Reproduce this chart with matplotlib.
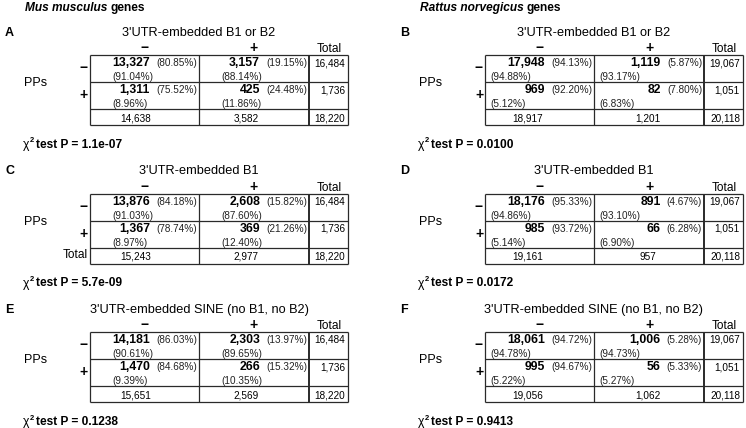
import matplotlib.pyplot as plt

plt.rcParams['font.family'] = ['Liberation Sans', 'DejaVu Sans']

# Contingency tables: [PPs-/SINE-, PPs-/SINE+, PPs+/SINE-, PPs+/SINE+]
species = ['Mus musculus', 'Rattus norvegicus']
panel_letters = [['A', 'C', 'E'], ['B', 'D', 'F']]
panel_titles = ["3'UTR-embedded B1 or B2", "3'UTR-embedded B1",
                "3'UTR-embedded SINE (no B1, no B2)"]
mouse_counts = [[13327, 3157, 1311, 425],
                [13876, 2608, 1367, 369],
                [14181, 2303, 1470, 266]]
rat_counts = [[17948, 1119, 969, 82],
              [18176, 891, 985, 66],
              [18061, 1006, 995, 56]]
mouse_pvalues = ['1.1e-07', '5.7e-09', '0.1238']
rat_pvalues = ['0.0100', '0.0172', '0.9413']

fig = plt.figure(figsize=(7.46, 4.28), dpi=100)
ax = fig.add_axes([0, 0, 1, 1])
ax.set_xlim(0, 746)
ax.set_ylim(428, 0)
ax.axis('off')
renderer = fig.canvas.get_renderer()

line_kw = dict(color='#2a2a2a', lw=0.9, solid_capstyle='butt')
fmt = lambda v: f'{v:,}'

all_counts = [mouse_counts, rat_counts]
all_pvalues = [mouse_pvalues, rat_pvalues]
colpct_off = [22, 5]           # left inset of the column-percentage line
total_row_off = [[46, 47], [43, 54]]

for s in range(2):
    dx = 395 * s
    name = ax.text(25 + dx, 8, species[s], fontsize=8.6, fontweight='bold',
                   style='italic', va='center', ha='left')
    bb = name.get_window_extent(renderer)
    ax.text(bb.x1 + 3, 8, 'genes', fontsize=8.6, fontweight='bold',
            va='center', ha='left')

    for p in range(3):
        c = all_counts[s][p]
        x0 = 90 + dx
        y0 = 55 + 138.5 * p
        cols = [x0, x0 + 109, x0 + 219, x0 + 258]
        rows = [y0, y0 + 27, y0 + 54, y0 + 70]

        # grid
        for yy in rows:
            ax.plot([cols[0], cols[3]], [yy, yy], **line_kw)
        for i, xx in enumerate(cols):
            ax.plot([xx, xx], [rows[0], rows[3]],
                    **dict(line_kw, lw=1.4 if i == 2 else 0.9))

        ax.text(5 + dx, y0 - 22, panel_letters[s][p], fontsize=9,
                fontweight='bold', va='center')
        ax.text(cols[1], y0 - 22, panel_titles[p], fontsize=9.2,
                ha='center', va='center')
        ax.text((cols[0] + cols[1]) / 2, y0 - 7, '\u2212', fontsize=10,
                fontweight='bold', ha='center', va='center')
        ax.text((cols[1] + cols[2]) / 2, y0 - 7, '+', fontsize=10,
                fontweight='bold', ha='center', va='center')
        ax.text((cols[2] + cols[3]) / 2 + 1, y0 - 6, 'Total', fontsize=8.6,
                ha='center', va='center')
        ax.text(cols[0] - 6, y0 + 13, '\u2212', fontsize=10,
                fontweight='bold', ha='center', va='center')
        ax.text(cols[0] - 6, y0 + 40, '+', fontsize=10,
                fontweight='bold', ha='center', va='center')
        ax.text(24 + dx, y0 + 28, 'PPs', fontsize=9, va='center')
        if s == 0 and p == 1:
            ax.text(cols[0] - 2, y0 + 62, 'Total', fontsize=8.6,
                    ha='right', va='center')

        row_tot = [c[0] + c[1], c[2] + c[3]]
        col_tot = [c[0] + c[2], c[1] + c[3]]
        for r in range(2):
            for k in range(2):
                v = c[2 * r + k]
                yy = y0 + 8 + 27 * r
                pct_t = ax.text(cols[k + 1] - 2, yy,
                                f'({100 * v / row_tot[r]:.2f}%)',
                                fontsize=7.2, ha='right', va='center',
                                color='#222222')
                pb = pct_t.get_window_extent(renderer)
                ax.text(pb.x0 - 6, yy + 0.3, fmt(v), fontsize=8.8,
                        fontweight='bold', ha='right', va='center')
                ax.text(cols[k] + colpct_off[s], yy + 14,
                        f'({100 * v / col_tot[k]:.2f}%)', fontsize=7.2,
                        ha='left', va='center', color='#222222')
            ax.text(cols[3] - 3, y0 + 8 + 27 * r, fmt(row_tot[r]),
                    fontsize=7.2, ha='right', va='center')

        for k in range(2):
            ax.text(cols[k] + total_row_off[s][k], y0 + 63, fmt(col_tot[k]),
                    fontsize=7.2, ha='center', va='center')
        ax.text(cols[3] - 3, y0 + 63, fmt(sum(c)), fontsize=7.2,
                ha='right', va='center')

        # chi-square line
        chi = ax.text(23 + dx, y0 + 90, '\u03c7', fontsize=8.8,
                      va='center', ha='left')
        cb = chi.get_window_extent(renderer)
        ax.text(cb.x1 + 0.3, y0 + 86, '2', fontsize=5.5, fontweight='bold',
                va='center', ha='left')
        ax.text(cb.x1 + 7, y0 + 90, f'test P = {all_pvalues[s][p]}',
                fontsize=8.6, fontweight='bold', va='center', ha='left')

fig.savefig('out.png', dpi=100)
